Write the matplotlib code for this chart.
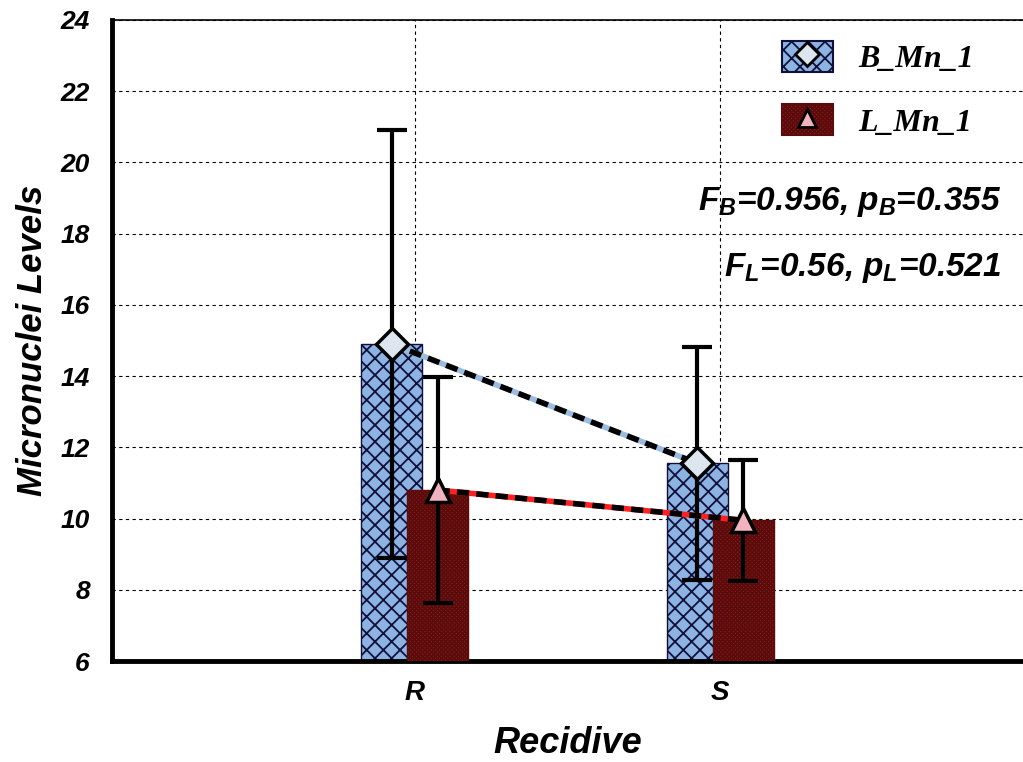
import numpy as np
import matplotlib
matplotlib.use('Agg')
import matplotlib.pyplot as plt
from matplotlib.patches import Patch
from matplotlib.lines import Line2D

plt.rcParams['font.family'] = ['Liberation Sans', 'DejaVu Sans']
plt.rcParams['mathtext.fontset'] = 'custom'
plt.rcParams['mathtext.rm'] = 'Liberation Sans:bold:italic'
plt.rcParams['mathtext.it'] = 'Liberation Sans:bold:italic'
plt.rcParams['hatch.linewidth'] = 1.3

# data
groups = ['R', 'S']
b_mean = [14.9, 11.55]
b_err = [6.0, 3.27]
l_mean = [10.8, 9.95]
l_err = [3.17, 1.7]
labels = ['B_Mn_1', 'L_Mn_1']
stats_text = [r'$F_B$=0.956, $p_B$=0.355', r'$F_L$=0.56, $p_L$=0.521']

x = np.arange(len(groups))
w = 0.2
off = 0.075

fig = plt.figure(figsize=(10.23, 7.62), dpi=100)
ax = fig.add_axes([0.1095, 0.1325, 0.8905, 0.8415])

b_color = '#8db3e2'
l_color = '#9a1c1c'

ax.bar(x - off, np.array(b_mean) - 6, w, bottom=6, color=b_color,
       edgecolor='#10103a', hatch='xx', linewidth=1, zorder=2)
ax.bar(x + off, np.array(l_mean) - 6, w, bottom=6, color=l_color,
       edgecolor='#5a0c0c', hatch='xxxxxxxx', linewidth=1, zorder=3)

# error bars
ax.errorbar(x - off, b_mean, yerr=b_err, fmt='none', ecolor='black',
             elinewidth=3, capsize=11, capthick=3, zorder=4)
ax.errorbar(x + off, l_mean, yerr=l_err, fmt='none', ecolor='black',
             elinewidth=3, capsize=11, capthick=3, zorder=4)

# connecting lines
ax.plot(x - off, b_mean, color='#9bbbe0', lw=4, zorder=5)
ax.plot(x - off, b_mean, color='black', lw=4, ls=(0, (2.2, 1.3)), zorder=5.1)
ax.plot(x + off, l_mean, color='#ff2020', lw=4, zorder=5)
ax.plot(x + off, l_mean, color='black', lw=4, ls=(0, (2.2, 1.3)), zorder=5.1)

# markers
ax.plot(x - off, b_mean, ls='none', marker='D', ms=16, mfc='#dde5ef',
        mec='black', mew=2.5, zorder=6)
ax.plot(x + off, l_mean, ls='none', marker='^', ms=17, mfc='#f2b3c0',
        mec='black', mew=2.5, zorder=6)

ax.set_xlim(-0.99, 1.99)
ax.set_ylim(6, 24)
ax.set_yticks(np.arange(6, 25, 2))
ax.set_xticks(x)
ax.set_xticklabels(groups)
ax.grid(True, color='black', ls=(0, (3, 3)), lw=0.8, zorder=0)
ax.set_axisbelow(True)

for lab in ax.get_yticklabels():
    lab.set_fontsize(19)
    lab.set_fontweight('bold')
    lab.set_fontstyle('italic')
for lab in ax.get_xticklabels():
    lab.set_fontsize(20)
    lab.set_fontweight('bold')
    lab.set_fontstyle('italic')
ax.tick_params(axis='both', length=0)
ax.tick_params(axis='x', pad=14)
ax.tick_params(axis='y', pad=16)

ax.spines['left'].set_linewidth(3.5)
ax.spines['bottom'].set_linewidth(3.5)
ax.spines['top'].set_linewidth(1.2)
ax.spines['right'].set_visible(False)

ax.set_ylabel('Micronuclei Levels', fontsize=25, fontweight='bold',
              fontstyle='italic', labelpad=8)
ax.set_xlabel('Recidive', fontsize=26, fontweight='bold',
              fontstyle='italic', labelpad=14)

# legend
h_b = (Patch(facecolor=b_color, edgecolor='#10103a', hatch='xx', lw=1.5),
       Line2D([], [], ls='none', marker='D', ms=12, mfc='#dde5ef', mec='black', mew=2))
h_l = (Patch(facecolor=l_color, edgecolor='#5a0c0c', hatch='xxxxxxxx', lw=1.5),
       Line2D([], [], ls='none', marker='^', ms=13, mfc='#f2b3c0', mec='black', mew=2))
leg = ax.legend([h_b, h_l], labels, loc='upper right',
                bbox_to_anchor=(0.978, 1.012), frameon=False,
                handlelength=1.6, handleheight=1.1, labelspacing=0.95,
                handletextpad=0.8,
                prop={'family': 'Liberation Serif', 'weight': 'bold',
                      'style': 'italic', 'size': 23})

fig.text(0.979, 0.735, stats_text[0], ha='right', va='center', fontsize=24,
         fontweight='bold', fontstyle='italic')
fig.text(0.979, 0.648, stats_text[1], ha='right', va='center', fontsize=24,
         fontweight='bold', fontstyle='italic')

fig.savefig('out.png', dpi=100)
